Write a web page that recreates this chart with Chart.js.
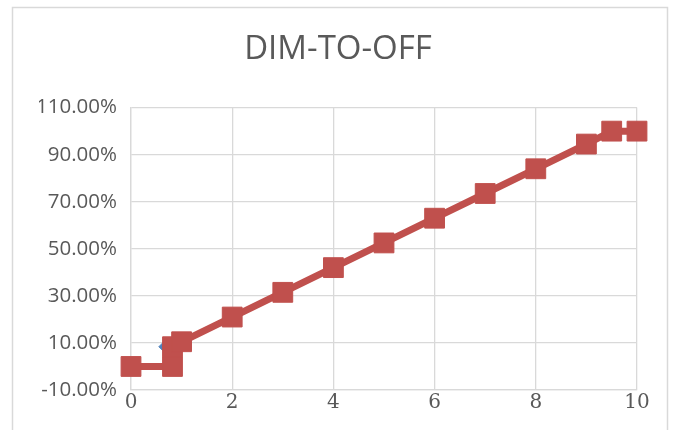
<!DOCTYPE html>
<html>
<head>
<meta charset="utf-8">
<script src="https://cdn.jsdelivr.net/npm/chart.js@4"></script>
<style>
  html, body { margin: 0; padding: 0; background: #fff; }
  #wrap { width: 676px; height: 430px; }
</style>
</head>
<body>
<div id="wrap"><canvas id="c1" width="676" height="430"></canvas></div>
<script>
// values, y in percent
const dimX = [0, 0.82, 0.82, 1, 2, 3, 4, 5, 6, 7, 8, 9, 9.5, 10];
const dimY = [0, 0, 8.4, 10.5, 21, 31.5, 42, 52.5, 63, 73.5, 84, 94.5, 100, 100];
// second series, mostly hidden under the red one
const blueX = [0.63];
const blueY = [8.4];
const xTicks = [0, 2, 4, 6, 8, 10];
const yTicks = [-10, 10, 30, 50, 70, 90, 110];

const frame = {
  id: 'frame',
  beforeDraw(chart) {
    const c = chart.ctx;
    c.save();
    c.fillStyle = '#fff';
    c.fillRect(0, 0, chart.width, chart.height);
    c.strokeStyle = '#d9d9d9';
    c.lineWidth = 1.5;
    c.strokeRect(12.5, 7.5, 655, 440);
    c.restore();
  }
};

const toPts = (xs, ys) => xs.map((x, i) => ({ x: x, y: ys[i] }));

const ctx = document.querySelector('#c1').getContext('2d');
const myChart = new Chart(ctx, {
  type: 'scatter',
  data: {
    datasets: [{
      label: 'DIM-TO-OFF',
      data: toPts(dimX, dimY),
      showLine: true,
      clip: false,
      borderColor: '#c0504d',
      backgroundColor: '#c0504d',
      borderWidth: 7,
      pointStyle: 'rect',
      pointRadius: 14,
      pointBorderWidth: 1,
      pointHoverRadius: 14
    }, {
      label: 'Series 1',
      data: toPts(blueX, blueY),
      showLine: false,
      clip: false,
      borderColor: '#4f81bd',
      backgroundColor: '#4f81bd',
      pointStyle: 'rectRot',
      pointRadius: 4
    }]
  },
  options: {
    responsive: false,
    animation: false,
    layout: { padding: { left: 39, right: 39, top: 0, bottom: 0 } },
    plugins: {
      legend: { display: false },
      tooltip: { enabled: false },
      title: {
        display: true,
        text: 'DIM-TO-OFF',
        color: '#595959',
        font: { family: 'Open Sans', size: 33, weight: 'normal', lineHeight: 1.2 },
        padding: { top: 30, bottom: 38 }
      }
    },
    scales: {
      x: {
        type: 'linear',
        min: 0,
        max: 10,
        afterBuildTicks: s => { s.ticks = xTicks.map(v => ({ value: v })); },
        afterFit: s => { s.height = 40; },
        grid: { color: '#d9d9d9', lineWidth: 1.3, drawTicks: false },
        border: { color: '#d9d9d9', width: 1.3 },
        ticks: {
          color: '#595959',
          padding: 1,
          font: { family: 'DejaVu Serif', size: 20 }
        }
      },
      y: {
        min: -10,
        max: 110,
        clip: false,
        afterBuildTicks: s => { s.ticks = yTicks.map(v => ({ value: v })); },
        afterFit: s => { s.width = 92; },
        grid: { color: '#d9d9d9', lineWidth: 1.3, drawTicks: false },
        border: { color: '#d9d9d9', width: 1.3 },
        ticks: {
          color: '#595959',
          padding: 14,
          font: { family: 'Open Sans', size: 20.5 },
          callback: v => v.toFixed(2) + '%'
        }
      }
    }
  },
  plugins: [frame]
});
</script>
</body>
</html>
